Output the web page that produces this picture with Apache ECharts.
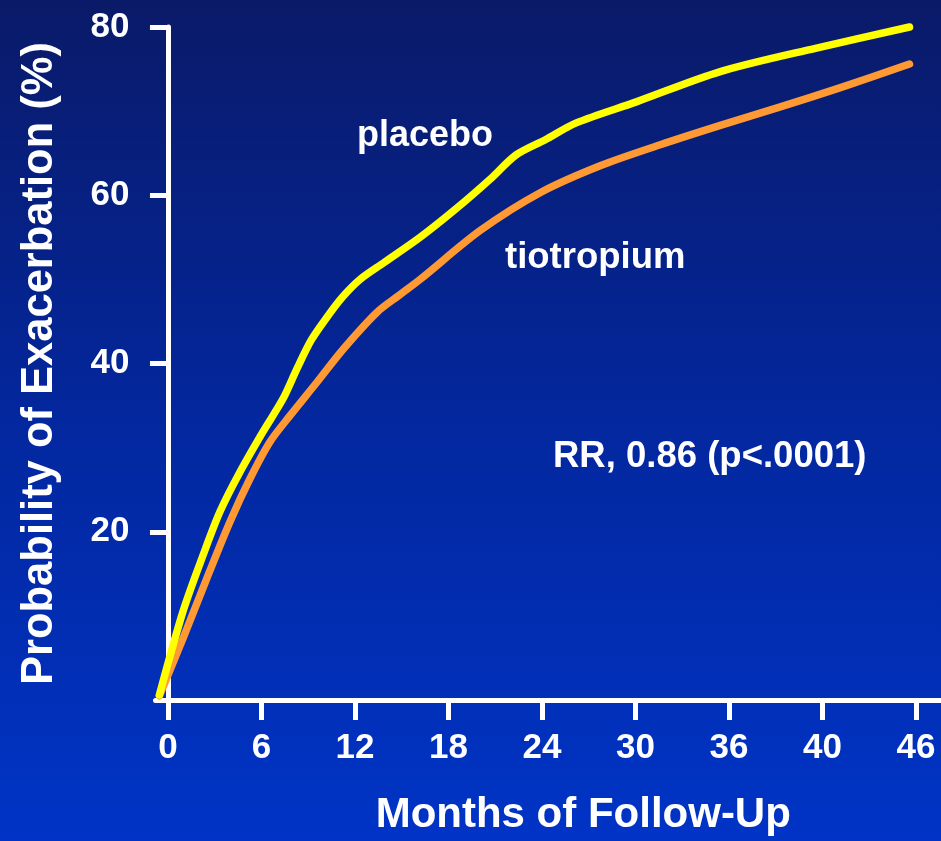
<!DOCTYPE html>
<html>
<head>
<meta charset="utf-8">
<script src="https://cdn.jsdelivr.net/npm/echarts@6/dist/echarts.min.js"></script>
<style>
  html, body { margin: 0; padding: 0; }
  #chart { width: 941px; height: 841px; }
</style>
</head>
<body>
<div id="chart"></div>
<script>
// Cumulative probability of a first exacerbation (%) over follow-up.
// x is the position along the follow-up axis (one tick slot = 6 units).
const placeboX = [-0.55, 0.96, 2.25, 3.34, 4.62, 6.10, 7.38, 8.28, 9.20, 10.20, 11.20, 12.33, 13.87, 16.18, 18.49, 20.67, 22.34, 24.21, 26.20, 30.05, 35.44, 41.61, 47.58];
const placeboY = [0.6, 10.5, 17.2, 22.4, 27.1, 31.9, 35.8, 39.4, 42.8, 45.5, 47.9, 50.0, 52.0, 55.0, 58.4, 61.9, 64.8, 66.6, 68.6, 71.1, 74.7, 77.5, 80.0];

const tiotropiumX = [-0.55, 0.96, 2.50, 3.98, 5.26, 6.55, 7.83, 9.57, 11.24, 13.42, 14.90, 16.18, 20.03, 23.88, 27.73, 31.59, 35.44, 39.29, 43.15, 47.58];
const tiotropiumY = [0.5, 7.3, 14.5, 21.2, 26.3, 30.7, 33.8, 37.8, 41.7, 46.1, 48.2, 50.0, 55.8, 60.3, 63.5, 66.0, 68.3, 70.5, 72.8, 75.6];

// Tick positions on the follow-up axis and the labels printed under them
const xTickValues = [0, 6, 12, 18, 24, 30, 36, 42, 48];
const xTickLabels = ['0', '6', '12', '18', '24', '30', '36', '40', '46'];
const yTickValues = [20, 40, 60, 80];

const FONT = '"Liberation Sans", Arial, Helvetica, sans-serif';

function pairs(xs, ys) {
  return xs.map((x, i) => [x, ys[i]]);
}

const chart = echarts.init(document.getElementById('chart'), null, { renderer: 'canvas' });

chart.setOption({
  animation: false,
  backgroundColor: new echarts.graphic.LinearGradient(0, 0, 0, 1, [
    { offset: 0, color: '#0a1a68' },
    { offset: 0.5, color: '#03279e' },
    { offset: 1, color: '#0034c6' }
  ]),
  grid: { left: 155.5, right: 0, top: 27, bottom: 139, containLabel: false },
  xAxis: {
    type: 'value',
    min: -0.8,
    max: 49.6,
    name: 'Months of Follow-Up',
    nameLocation: 'middle',
    nameGap: 94,
    nameTextStyle: {
      color: '#ffffff', fontFamily: FONT, fontWeight: 'bold', fontSize: 42,
      padding: [0, 0, 0, 70]
    },
    axisLine: { onZero: false, lineStyle: { color: '#ffffff', width: 5 } },
    axisTick: {
      show: true, customValues: xTickValues, length: 20, inside: false,
      lineStyle: { color: '#ffffff', width: 5 }
    },
    axisLabel: {
      customValues: xTickValues,
      margin: 31,
      color: '#ffffff', fontFamily: FONT, fontWeight: 'bold', fontSize: 35,
      formatter: v => {
        const i = xTickValues.indexOf(v);
        return i >= 0 ? xTickLabels[i] : '';
      }
    },
    splitLine: { show: false }
  },
  yAxis: {
    type: 'value',
    min: 0,
    max: 80,
    interval: 20,
    name: 'Probability of Exacerbation (%)',
    nameLocation: 'middle',
    nameGap: 94,
    nameTextStyle: { color: '#ffffff', fontFamily: FONT, fontWeight: 'bold', fontSize: 43.5 },
    axisLine: { show: true, onZero: true, lineStyle: { color: '#ffffff', width: 5 } },
    axisTick: {
      show: true, customValues: yTickValues, length: 18,
      lineStyle: { color: '#ffffff', width: 5 }
    },
    axisLabel: {
      customValues: yTickValues,
      margin: 26,
      color: '#ffffff', fontFamily: FONT, fontWeight: 'bold', fontSize: 35,
      formatter: v => (v === 0 ? '' : String(v))
    },
    splitLine: { show: false }
  },
  series: [
    {
      name: 'tiotropium',
      type: 'line',
      data: pairs(tiotropiumX, tiotropiumY),
      smooth: 0.3,
      showSymbol: false,
      clip: false,
      lineStyle: { color: '#ff9933', width: 7.5, cap: 'round', join: 'round' },
      z: 3
    },
    {
      name: 'placebo',
      type: 'line',
      data: pairs(placeboX, placeboY),
      smooth: 0.3,
      showSymbol: false,
      clip: false,
      lineStyle: { color: '#ffff00', width: 7.5, cap: 'round', join: 'round' },
      z: 4
    }
  ],
  graphic: [
    {
      type: 'text', x: 357, y: 136,
      style: { text: 'placebo', fill: '#ffffff', font: 'bold 36px ' + FONT, textVerticalAlign: 'middle' }
    },
    {
      type: 'text', x: 505, y: 258,
      style: { text: 'tiotropium', fill: '#ffffff', font: 'bold 36.5px ' + FONT, textVerticalAlign: 'middle' }
    },
    {
      type: 'text', x: 553, y: 457,
      style: { text: 'RR, 0.86 (p<.0001)', fill: '#ffffff', font: 'bold 36.5px ' + FONT, textVerticalAlign: 'middle' }
    }
  ]
});
</script>
</body>
</html>
